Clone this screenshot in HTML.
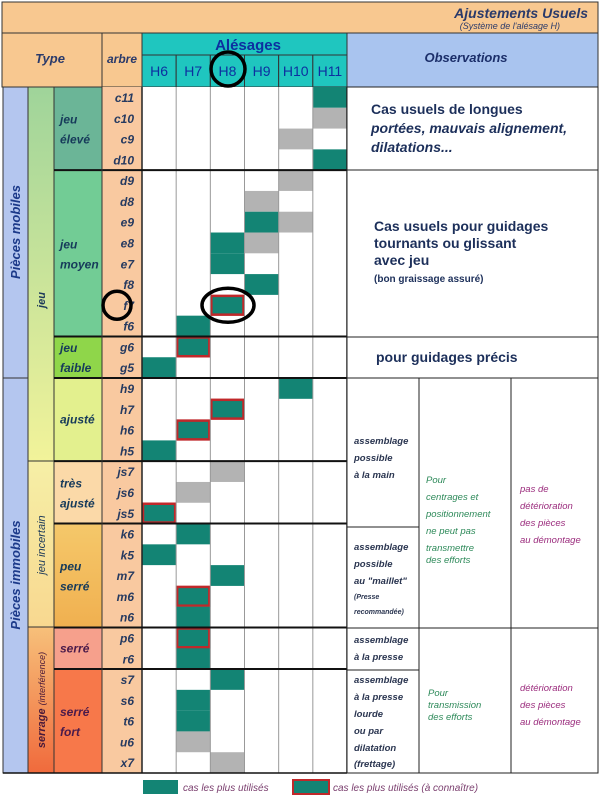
<!DOCTYPE html>
<html><head><meta charset="utf-8"><style>
body{margin:0;background:#fff;width:600px;height:803px;overflow:hidden}
svg{display:block;font-family:"Liberation Sans",Arial,sans-serif}
.b{font-weight:bold;font-style:italic}
</style></head><body>
<svg id="chart" width="600" height="803">
<defs>
<linearGradient id="gJeu" x1="0" y1="0" x2="0" y2="1"><stop offset="0" stop-color="#9fd49a"/><stop offset="1" stop-color="#f2f39a"/></linearGradient>
<linearGradient id="gInc" x1="0" y1="0" x2="0" y2="1"><stop offset="0" stop-color="#f6efa6"/><stop offset="1" stop-color="#f8d890"/></linearGradient>
<linearGradient id="gSer" x1="0" y1="0" x2="0" y2="1"><stop offset="0" stop-color="#f7c07a"/><stop offset="1" stop-color="#f06a3c"/></linearGradient>
<linearGradient id="gPeu" x1="0" y1="0" x2="0" y2="1"><stop offset="0" stop-color="#f5c86a"/><stop offset="1" stop-color="#f0b050"/></linearGradient>
</defs>
<!-- title -->
<rect x="2" y="2" width="596" height="31" fill="#f8c890" stroke="#333"/>
<text x="588" y="18" text-anchor="end" class="b" font-size="14" fill="#2a3a6a">Ajustements Usuels</text>
<text x="560" y="29" text-anchor="end" font-style="italic" font-size="9" fill="#2a3a6a">(Système de l'alésage H)</text>
<!-- header -->
<rect x="2" y="33" width="100" height="54" fill="#f8c890" stroke="#333"/>
<text x="50" y="63" text-anchor="middle" class="b" font-size="13" fill="#2a3a6a">Type</text>
<rect x="102" y="33" width="40" height="54" fill="#f8c890" stroke="#333"/>
<text x="122" y="63" text-anchor="middle" class="b" font-size="12" fill="#2a3a6a">arbre</text>
<rect x="142" y="33" width="205" height="22" fill="#1fc6bf" stroke="#333"/>
<text x="248" y="50" text-anchor="middle" font-weight="bold" font-size="15" fill="#0d2fa0">Alésages</text>
<rect x="347" y="33" width="251" height="54" fill="#a9c4ef" stroke="#333"/>
<text x="466" y="62" text-anchor="middle" class="b" font-size="13" fill="#1c2f6a">Observations</text>
<g id="hdr"></g>
<!-- left type columns -->
<rect x="3" y="87" width="25" height="291" fill="#b4c6ef" stroke="#333"/>
<text transform="translate(20,232) rotate(-90)" text-anchor="middle" class="b" font-size="13" fill="#1c3a8a">Pièces mobiles</text>
<rect x="3" y="378" width="25" height="395" fill="#b4c6ef" stroke="#333"/>
<text transform="translate(20,575) rotate(-90)" text-anchor="middle" class="b" font-size="13" fill="#1c3a8a">Pièces immobiles</text>
<rect x="28" y="87" width="26" height="374" fill="url(#gJeu)" stroke="#333"/>
<text transform="translate(45,300) rotate(-90)" text-anchor="middle" class="b" font-size="11" fill="#1c3a5a">jeu</text>
<rect x="28" y="461" width="26" height="166" fill="url(#gInc)" stroke="#333"/>
<text transform="translate(45,545) rotate(-90)" text-anchor="middle" font-style="italic" font-size="11" fill="#1c3a5a">jeu incertain</text>
<rect x="28" y="627" width="26" height="146" fill="url(#gSer)" stroke="#333"/>
<text transform="translate(45,700) rotate(-90)" text-anchor="middle" font-size="11" fill="#4a1a3a"><tspan class="b">serrage</tspan> <tspan font-style="italic" font-size="9">(interférence)</tspan></text>
<g id="types"></g>
<g id="rows"></g>
<g id="cells"></g>
<g id="grid"></g>
<!-- observations -->
<rect x="347" y="87" width="251" height="83" fill="#fff" stroke="#222"/>
<text class="b" font-size="14" fill="#1c2f5a" font-style="normal"><tspan x="371" y="114" font-style="normal">Cas usuels de longues</tspan><tspan x="371" y="133">portées, mauvais alignement,</tspan><tspan x="371" y="152">dilatations...</tspan></text>
<rect x="347" y="170" width="251" height="167" fill="#fff" stroke="#222"/>
<text font-weight="bold" font-size="14" fill="#1c2f5a"><tspan x="374" y="231">Cas usuels pour guidages</tspan><tspan x="374" y="248">tournants ou glissant</tspan><tspan x="374" y="265">avec jeu</tspan><tspan x="374" y="282" font-size="10">(bon graissage assuré)</tspan></text>
<rect x="347" y="337" width="251" height="41" fill="#fff" stroke="#222"/>
<text x="376" y="362" font-weight="bold" font-size="14" fill="#1c2f5a">pour guidages précis</text>
<rect x="347" y="378" width="72" height="149" fill="#fff" stroke="#222"/>
<rect x="347" y="527" width="72" height="101" fill="#fff" stroke="#222"/>
<rect x="347" y="628" width="72" height="42" fill="#fff" stroke="#222"/>
<rect x="347" y="670" width="72" height="103" fill="#fff" stroke="#222"/>
<rect x="419" y="378" width="92" height="250" fill="#fff" stroke="#222"/>
<rect x="419" y="628" width="92" height="145" fill="#fff" stroke="#222"/>
<rect x="511" y="378" width="87" height="250" fill="#fff" stroke="#222"/>
<rect x="511" y="628" width="87" height="145" fill="#fff" stroke="#222"/>
<g class="b" font-size="9.5" fill="#2a3550">
<text><tspan x="354" y="444">assemblage</tspan><tspan x="354" y="461">possible</tspan><tspan x="354" y="478">à la main</tspan></text>
<text><tspan x="354" y="550">assemblage</tspan><tspan x="354" y="567">possible</tspan><tspan x="354" y="584">au "maillet"</tspan><tspan x="354" y="599" font-size="7">(Presse</tspan><tspan x="354" y="614" font-size="7">recommandée)</tspan></text>
<text><tspan x="354" y="643">assemblage</tspan><tspan x="354" y="660">à la presse</tspan></text>
<text><tspan x="354" y="683">assemblage</tspan><tspan x="354" y="700">à la presse</tspan><tspan x="354" y="717">lourde</tspan><tspan x="354" y="734">ou par</tspan><tspan x="354" y="751">dilatation</tspan><tspan x="354" y="767">(frettage)</tspan></text>
</g>
<g font-style="italic" font-size="9.5" fill="#2e8a5a">
<text><tspan x="426" y="483">Pour</tspan><tspan x="426" y="500">centrages et</tspan><tspan x="426" y="517">positionnement</tspan><tspan x="426" y="534">ne peut pas</tspan><tspan x="426" y="551">transmettre</tspan><tspan x="426" y="563">des efforts</tspan></text>
<text><tspan x="428" y="696">Pour</tspan><tspan x="428" y="708">transmission</tspan><tspan x="428" y="720">des efforts</tspan></text>
</g>
<g font-style="italic" font-size="9.5" fill="#9b2c7d">
<text><tspan x="520" y="492">pas de</tspan><tspan x="520" y="509">détérioration</tspan><tspan x="520" y="526">des pièces</tspan><tspan x="520" y="543">au démontage</tspan></text>
<text><tspan x="520" y="691">détérioration</tspan><tspan x="520" y="708">des pièces</tspan><tspan x="520" y="725">au démontage</tspan></text>
</g>
<!-- legend -->
<rect x="143" y="780" width="35" height="14" fill="#138474"/>
<text x="183" y="791" font-style="italic" font-size="10" fill="#7a3e6e">cas les plus utilisés</text>
<rect x="293" y="780" width="36" height="14" fill="#138474" stroke="#c0282a" stroke-width="2"/>
<text x="333" y="791" font-style="italic" font-size="10" fill="#7a3e6e">cas les plus utilisés (à connaître)</text>
<g id="circles"></g>
</svg>
<script>
const holes = ["H6","H7","H8","H9","H10","H11"];
const shafts = ["c11","c10","c9","d10","d9","d8","e9","e8","e7","f8","f7","f6","g6","g5","h9","h7","h6","h5","js7","js6","js5","k6","k5","m7","m6","n6","p6","r6","s7","s6","t6","u6","x7"];
// cell values: [shaft, hole, kind] kind: t=teal, g=gray, r=teal with red border
const fits = [["c11","H11","t"],["c10","H11","g"],["c9","H10","g"],["d10","H11","t"],["d9","H10","g"],["d8","H9","g"],["e9","H9","t"],["e9","H10","g"],["e8","H8","t"],["e8","H9","g"],["e7","H8","t"],["f8","H9","t"],["f7","H8","r"],["f6","H7","t"],["g6","H7","r"],["g5","H6","t"],["h9","H10","t"],["h7","H8","r"],["h6","H7","r"],["h5","H6","t"],["js7","H8","g"],["js6","H7","g"],["js5","H6","r"],["k6","H7","t"],["k5","H6","t"],["m7","H8","t"],["m6","H7","r"],["n6","H7","t"],["p6","H7","r"],["r6","H7","t"],["s7","H8","t"],["s6","H7","t"],["t6","H7","t"],["u6","H7","g"],["x7","H8","g"]];
const groupEnds = [3,11,13,17,20,25,27];
const typeGroups = [["jeu élevé",0,3,"#6bb597","#163a5a"],["jeu moyen",4,11,"#72cc95","#163a5a"],["jeu faible",12,13,"#8fd64a","#163a5a"],["ajusté",14,17,"#e3f08e","#163a5a"],["très ajusté",18,20,"#fbd9a8","#163a5a"],["peu serré",21,25,"url(#gPeu)","#163a5a"],["serré",26,27,"#f6a08c","#4a1a4a"],["serré fort",28,32,"#f7784a","#4a1a4a"]];
const NS="http://www.w3.org/2000/svg";
const X0=142,CW=(347-142)/6,Y0=87,RH=(773-87)/33;
const xH=h=>X0+holes.indexOf(h)*CW;
const yS=s=>Y0+shafts.indexOf(s)*RH;
function mk(t,a,p){const e=document.createElementNS(NS,t);for(const k in a)e.setAttribute(k,a[k]);p.appendChild(e);return e;}
const hdr=document.getElementById('hdr');
holes.forEach((h,i)=>{
 const r=mk('rect',{x:X0+i*CW,y:55,width:CW,height:32,fill:'#1fc6bf',stroke:'#333'},hdr);
 
 
 const t=mk('text',{x:X0+i*CW+CW/2,y:76,'text-anchor':'middle','font-size':14,fill:'#0d2fa0'},hdr);
 t.textContent=h;
 
 
});
const rows=document.getElementById('rows');
mk('rect',{x:102,y:Y0,width:40,height:33*RH,fill:'#f9c9a0'},rows);
mk('rect',{x:X0,y:Y0,width:205,height:33*RH,fill:'#fff'},rows);
shafts.forEach((s,i)=>{
 const t=mk('text',{x:134,y:Y0+i*RH+15,'text-anchor':'end','font-size':12,'font-weight':'bold','font-style':'italic',fill:'#263a60'},rows);
 t.textContent=s;
 
 
});
const types=document.getElementById('types');
typeGroups.forEach(g=>{
 const y=Y0+g[1]*RH,h=(g[2]-g[1]+1)*RH;
 const r=mk('rect',{x:54,y:y,width:48,height:h,fill:g[3],stroke:'#333'},types);
 
 
 const w=g[0].split(' ');
 const t=mk('text',{'font-size':12,'font-weight':'bold','font-style':'italic',fill:g[4]},types);
 
 
 const cy=y+h/2-(w.length-1)*9+4;
 w.forEach((ww,k)=>{const sp=mk('tspan',{x:w.length>1?60:60,y:cy+k*20},t);sp.textContent=ww;});
});
const cells=document.getElementById('cells');
fits.forEach(f=>{
 const x=xH(f[1]),y=yS(f[0]);
 const a={x:x,y:y,width:CW,height:RH,fill:f[2]==='g'?'#b3b3b3':'#138474'};
 if(f[2]==='r'){a.x=x+1;a.y=y+1;a.width=CW-2;a.height=RH-2;a.stroke='#c0282a';a['stroke-width']=2.5;}
 const r=mk('rect',a,cells);
 
 
});
const grid=document.getElementById('grid');
for(let i=0;i<=6;i++)mk('line',{x1:X0+i*CW,y1:Y0,x2:X0+i*CW,y2:773,stroke:i==0||i==6?'#222':'#999','stroke-width':i==0||i==6?1.5:1},grid);
groupEnds.forEach(e=>mk('line',{x1:54,y1:Y0+(e+1)*RH,x2:347,y2:Y0+(e+1)*RH,stroke:'#111','stroke-width':2},grid));
mk('line',{x1:102,y1:Y0,x2:102,y2:773,stroke:'#333'},grid);
mk('line',{x1:3,y1:773,x2:347,y2:773,stroke:'#111','stroke-width':1.5},grid);
const c=document.getElementById('circles');
const c1=mk('ellipse',{cx:228,cy:69,rx:17,ry:17,fill:'none',stroke:'#000','stroke-width':3.5},c);


const c2=mk('ellipse',{cx:117,cy:yS('f7')+RH/2,rx:14,ry:14,fill:'none',stroke:'#000','stroke-width':3.5},c);


const c3=mk('ellipse',{cx:228,cy:yS('f7')+RH/2,rx:26,ry:17,fill:'none',stroke:'#000','stroke-width':3.5},c);


</script>
</body></html>
